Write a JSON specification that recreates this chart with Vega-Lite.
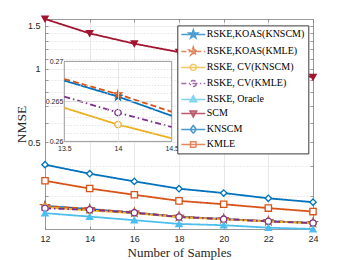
{
  "$schema": "https://vega.github.io/schema/vega-lite/v6.json",
  "width": 268,
  "height": 210,
  "autosize": {"type": "none"},
  "padding": {"left": 45, "top": 19, "right": 33, "bottom": 31},
  "background": "white",
  "config": {
    "view": {"stroke": null},
    "axis": {"labelFont": "Liberation Sans", "titleFont": "Liberation Serif", "labelColor": "#262626", "titleColor": "#262626", "domainColor": "#808080", "tickColor": "#808080", "domainWidth": 0.8, "tickWidth": 0.8}
  },
  "datasets": {
    "main": [
      {"series": "RSKE,KOAS(KNSCM)", "n": 12, "nmse": 0.2736},
      {"series": "RSKE,KOAS(KNSCM)", "n": 14, "nmse": 0.2656},
      {"series": "RSKE,KOAS(KNSCM)", "n": 16, "nmse": 0.2566},
      {"series": "RSKE,KOAS(KNSCM)", "n": 18, "nmse": 0.2470},
      {"series": "RSKE,KOAS(KNSCM)", "n": 20, "nmse": 0.2418},
      {"series": "RSKE,KOAS(KNSCM)", "n": 22, "nmse": 0.2368},
      {"series": "RSKE,KOAS(KNSCM)", "n": 24, "nmse": 0.2330},
      {"series": "RSKE,KOAS(KMLE)", "n": 12, "nmse": 0.2735},
      {"series": "RSKE,KOAS(KMLE)", "n": 14, "nmse": 0.2659},
      {"series": "RSKE,KOAS(KMLE)", "n": 16, "nmse": 0.2574},
      {"series": "RSKE,KOAS(KMLE)", "n": 18, "nmse": 0.2473},
      {"series": "RSKE,KOAS(KMLE)", "n": 20, "nmse": 0.2421},
      {"series": "RSKE,KOAS(KMLE)", "n": 22, "nmse": 0.2370},
      {"series": "RSKE,KOAS(KMLE)", "n": 24, "nmse": 0.2332},
      {"series": "RSKE, CV(KNSCM)", "n": 12, "nmse": 0.2705},
      {"series": "RSKE, CV(KNSCM)", "n": 14, "nmse": 0.2621},
      {"series": "RSKE, CV(KNSCM)", "n": 16, "nmse": 0.2553},
      {"series": "RSKE, CV(KNSCM)", "n": 18, "nmse": 0.2460},
      {"series": "RSKE, CV(KNSCM)", "n": 20, "nmse": 0.2410},
      {"series": "RSKE, CV(KNSCM)", "n": 22, "nmse": 0.2362},
      {"series": "RSKE, CV(KNSCM)", "n": 24, "nmse": 0.2324},
      {"series": "RSKE, CV(KMLE)", "n": 12, "nmse": 0.2676},
      {"series": "RSKE, CV(KMLE)", "n": 14, "nmse": 0.2636},
      {"series": "RSKE, CV(KMLE)", "n": 16, "nmse": 0.2564},
      {"series": "RSKE, CV(KMLE)", "n": 18, "nmse": 0.2465},
      {"series": "RSKE, CV(KMLE)", "n": 20, "nmse": 0.2414},
      {"series": "RSKE, CV(KMLE)", "n": 22, "nmse": 0.2365},
      {"series": "RSKE, CV(KMLE)", "n": 24, "nmse": 0.2327},
      {"series": "RSKE, Oracle", "n": 12, "nmse": 0.2555},
      {"series": "RSKE, Oracle", "n": 14, "nmse": 0.2473},
      {"series": "RSKE, Oracle", "n": 16, "nmse": 0.2391},
      {"series": "RSKE, Oracle", "n": 18, "nmse": 0.2308},
      {"series": "RSKE, Oracle", "n": 20, "nmse": 0.2280},
      {"series": "RSKE, Oracle", "n": 22, "nmse": 0.2228},
      {"series": "RSKE, Oracle", "n": 24, "nmse": 0.2200},
      {"series": "SCM", "n": 12, "nmse": 1.600},
      {"series": "SCM", "n": 14, "nmse": 1.397},
      {"series": "SCM", "n": 16, "nmse": 1.267},
      {"series": "SCM", "n": 18, "nmse": 1.170},
      {"series": "SCM", "n": 20, "nmse": 1.082},
      {"series": "SCM", "n": 22, "nmse": 1.000},
      {"series": "SCM", "n": 24, "nmse": 0.923},
      {"series": "KNSCM", "n": 12, "nmse": 0.404},
      {"series": "KNSCM", "n": 14, "nmse": 0.371},
      {"series": "KNSCM", "n": 16, "nmse": 0.345},
      {"series": "KNSCM", "n": 18, "nmse": 0.322},
      {"series": "KNSCM", "n": 20, "nmse": 0.309},
      {"series": "KNSCM", "n": 22, "nmse": 0.294},
      {"series": "KNSCM", "n": 24, "nmse": 0.2835},
      {"series": "KMLE", "n": 12, "nmse": 0.347},
      {"series": "KMLE", "n": 14, "nmse": 0.3225},
      {"series": "KMLE", "n": 16, "nmse": 0.304},
      {"series": "KMLE", "n": 18, "nmse": 0.287},
      {"series": "KMLE", "n": 20, "nmse": 0.278},
      {"series": "KMLE", "n": 22, "nmse": 0.268},
      {"series": "KMLE", "n": 24, "nmse": 0.2594}
    ],
    "inset": [
      {"series": "RSKE,KOAS(KNSCM)", "n": 13.5, "nmse": 0.2676},
      {"series": "RSKE,KOAS(KNSCM)", "n": 14, "nmse": 0.2656},
      {"series": "RSKE,KOAS(KNSCM)", "n": 14.5, "nmse": 0.2632},
      {"series": "RSKE,KOAS(KMLE)", "n": 13.5, "nmse": 0.2678},
      {"series": "RSKE,KOAS(KMLE)", "n": 14, "nmse": 0.2659},
      {"series": "RSKE,KOAS(KMLE)", "n": 14.5, "nmse": 0.2637},
      {"series": "RSKE, CV(KNSCM)", "n": 13.5, "nmse": 0.2642},
      {"series": "RSKE, CV(KNSCM)", "n": 14, "nmse": 0.2621},
      {"series": "RSKE, CV(KNSCM)", "n": 14.5, "nmse": 0.2604},
      {"series": "RSKE, CV(KMLE)", "n": 13.5, "nmse": 0.2656},
      {"series": "RSKE, CV(KMLE)", "n": 14, "nmse": 0.2636},
      {"series": "RSKE, CV(KMLE)", "n": 14.5, "nmse": 0.2618}
    ]
  },
  "layer": [
    {
      "data": {"name": "main"},
      "mark": {"type": "line", "strokeWidth": 1.8},
      "encoding": {
        "x": {"field": "n", "type": "quantitative", "scale": {"domain": [12, 24]},
          "axis": {"orient": "bottom", "values": [12, 14, 16, 18, 20, 22, 24], "grid": true, "gridColor": "#e2e2e2", "gridWidth": 0.8, "tickSize": -3, "labelPadding": 8, "labelFontSize": 9, "labelFlush": false, "title": "Number of Samples", "titleFontSize": 13, "titleFontWeight": "normal", "titleY": 23, "titleBaseline": "middle"}},
        "y": {"field": "nmse", "type": "quantitative", "scale": {"type": "log", "domain": [0.22, 1.6]},
          "axis": {"orient": "left", "values": [0.3, 0.4, 0.5, 0.6, 0.7, 0.8, 0.9, 1, 1.1, 1.2, 1.3, 1.4, 1.5], "grid": true,
            "gridColor": {"condition": {"test": "datum.value == 0.5 || datum.value == 1 || datum.value == 1.5", "value": "#e2e2e2"}, "value": "#d0d0d0"},
            "gridDash": {"condition": {"test": "datum.value == 0.5 || datum.value == 1 || datum.value == 1.5", "value": [1, 0]}, "value": [1, 2]},
            "gridWidth": 0.8,
            "tickSize": -3, "labelPadding": 8, "labelFontSize": 9,
            "labelExpr": "datum.value == 0.5 ? '0.5' : datum.value == 1 ? '1' : datum.value == 1.5 ? '1.5' : ''",
            "title": "NMSE", "titleFontSize": 13.5, "titleFontWeight": "normal", "titleX": -24, "titleY": 105, "titleAlign": "center", "titleBaseline": "middle", "titleAngle": -90}},
        "stroke": {"field": "series", "type": "nominal", "legend": null,
          "scale": {"domain": ["RSKE,KOAS(KNSCM)", "RSKE,KOAS(KMLE)", "RSKE, CV(KNSCM)", "RSKE, CV(KMLE)", "RSKE, Oracle", "SCM", "KNSCM", "KMLE"], "range": ["#0072BD", "#D95319", "#EDB120", "#7E2F8E", "#4DBEEE", "#A2142F", "#0072BD", "#D95319"]}},
        "strokeDash": {"field": "series", "type": "nominal", "legend": null,
          "scale": {"domain": ["RSKE,KOAS(KNSCM)", "RSKE,KOAS(KMLE)", "RSKE, CV(KNSCM)", "RSKE, CV(KMLE)", "RSKE, Oracle", "SCM", "KNSCM", "KMLE"], "range": [[1, 0], [6, 3], [1, 0], [6, 3, 1.5, 3], [1, 0], [1, 0], [1, 0], [1, 0]]}},
        "detail": {"field": "series", "type": "nominal"}
      }
    },
    {
      "data": {"name": "main"},
      "mark": {"type": "point", "strokeWidth": 1.3, "size": 40, "opacity": 1},
      "encoding": {
        "x": {"field": "n", "type": "quantitative", "scale": {"domain": [12, 24]},
          "axis": {"orient": "top", "values": [12, 14, 16, 18, 20, 22, 24], "grid": false, "labels": false, "tickSize": -3, "title": null}},
        "y": {"field": "nmse", "type": "quantitative", "scale": {"type": "log", "domain": [0.22, 1.6]},
          "axis": {"orient": "right", "values": [0.3, 0.4, 0.5, 0.6, 0.7, 0.8, 0.9, 1, 1.1, 1.2, 1.3, 1.4, 1.5], "grid": false, "labels": false, "tickSize": -3, "title": null}},
        "stroke": {"field": "series", "type": "nominal", "legend": null,
          "scale": {"domain": ["RSKE,KOAS(KNSCM)", "RSKE,KOAS(KMLE)", "RSKE, CV(KNSCM)", "RSKE, CV(KMLE)", "RSKE, Oracle", "SCM", "KNSCM", "KMLE"], "range": ["#0072BD", "#D95319", "#EDB120", "#7E2F8E", "#4DBEEE", "#A2142F", "#0072BD", "#D95319"]}},
        "fill": {"field": "series", "type": "nominal", "legend": null,
          "scale": {"domain": ["RSKE,KOAS(KNSCM)", "RSKE,KOAS(KMLE)", "RSKE, CV(KNSCM)", "RSKE, CV(KMLE)", "RSKE, Oracle", "SCM", "KNSCM", "KMLE"], "range": ["#0072BD", "#D95319", "white", "white", "#4DBEEE", "#A2142F", "white", "white"]}},
        "shape": {"field": "series", "type": "nominal", "legend": null,
          "scale": {"domain": ["RSKE,KOAS(KNSCM)", "RSKE,KOAS(KMLE)", "RSKE, CV(KNSCM)", "RSKE, CV(KMLE)", "RSKE, Oracle", "SCM", "KNSCM", "KMLE"], "range": [
            "M0,-1.25L0.279,-0.384L1.189,-0.386L0.451,0.146L0.735,1.011L0,0.475L-0.735,1.011L-0.451,0.146L-1.189,-0.386L-0.279,-0.384Z",
            "M0,-1.25L0.279,-0.384L1.189,-0.386L0.451,0.146L0.735,1.011L0,0.475L-0.735,1.011L-0.451,0.146L-1.189,-0.386L-0.279,-0.384Z",
            "circle", "circle", "triangle-up", "triangle-down", "diamond", "square"]}}
      }
    },
    {
      "data": {"values": [{}]},
      "mark": {"type": "rect", "fill": "white", "stroke": "#808080", "strokeWidth": 0.8},
      "encoding": {
        "x": {"datum": 13.5, "type": "quantitative", "scale": {"domain": [13.5, 14.5], "range": [19.3, 126.7]}, "axis": null},
        "x2": {"datum": 14.5},
        "y": {"datum": 0.26, "type": "quantitative", "scale": {"domain": [0.26, 0.27], "range": [122.4, 42.4], "zero": false}, "axis": null},
        "y2": {"datum": 0.27}
      }
    },
    {
      "data": {"name": "inset"},
      "mark": {"type": "line", "strokeWidth": 1.8},
      "encoding": {
        "x": {"field": "n", "type": "quantitative", "scale": {"domain": [13.5, 14.5], "range": [19.3, 126.7]},
          "axis": {"orient": "bottom", "offset": -87.6, "values": [13.5, 14, 14.5], "format": "~g", "domain": false, "grid": false, "tickSize": -80, "tickWidth": 0.8,
            "tickColor": {"condition": {"test": "datum.value == 14", "value": "#e2e2e2"}, "value": "transparent"},
            "labelPadding": 83, "labelFontSize": 7, "labelAlign": "center", "labelBaseline": "top", "labelFlush": false, "title": null, "zindex": 1}},
        "y": {"field": "nmse", "type": "quantitative", "scale": {"domain": [0.26, 0.27], "range": [122.4, 42.4], "zero": false},
          "axis": {"orient": "left", "offset": -19.3, "values": [0.26, 0.261, 0.262, 0.263, 0.264, 0.265, 0.266, 0.267, 0.268, 0.269, 0.27], "domain": false, "grid": false, "tickSize": -107.4, "tickWidth": 0.8,
            "tickColor": {"condition": {"test": "datum.value == 0.26 || datum.value == 0.27", "value": "transparent"}, "value": "#d0d0d0"},
            "tickDash": {"condition": {"test": "datum.value == 0.265", "value": [1, 0]}, "value": [1, 2]},
            "labelPadding": 108.9, "labelFontSize": 7, "labelAlign": "right", "labelBaseline": "middle",
            "labelExpr": "datum.value == 0.26 ? '0.26' : datum.value == 0.265 ? '0.265' : datum.value == 0.27 ? '0.27' : ''",
            "title": null, "zindex": 1}},
        "stroke": {"field": "series", "type": "nominal", "legend": null,
          "scale": {"domain": ["RSKE,KOAS(KNSCM)", "RSKE,KOAS(KMLE)", "RSKE, CV(KNSCM)", "RSKE, CV(KMLE)", "RSKE, Oracle", "SCM", "KNSCM", "KMLE"], "range": ["#0072BD", "#D95319", "#EDB120", "#7E2F8E", "#4DBEEE", "#A2142F", "#0072BD", "#D95319"]}},
        "strokeDash": {"field": "series", "type": "nominal", "legend": null,
          "scale": {"domain": ["RSKE,KOAS(KNSCM)", "RSKE,KOAS(KMLE)", "RSKE, CV(KNSCM)", "RSKE, CV(KMLE)", "RSKE, Oracle", "SCM", "KNSCM", "KMLE"], "range": [[1, 0], [6, 3], [1, 0], [6, 3, 1.5, 3], [1, 0], [1, 0], [1, 0], [1, 0]]}}
      }
    },
    {
      "data": {"name": "inset"},
      "transform": [{"filter": "datum.n == 14"}],
      "mark": {"type": "point", "strokeWidth": 1.3, "size": 40, "opacity": 1},
      "encoding": {
        "x": {"field": "n", "type": "quantitative", "scale": {"domain": [13.5, 14.5], "range": [19.3, 126.7]}, "axis": null},
        "y": {"field": "nmse", "type": "quantitative", "scale": {"domain": [0.26, 0.27], "range": [122.4, 42.4], "zero": false}, "axis": null},
        "stroke": {"field": "series", "type": "nominal", "legend": null,
          "scale": {"domain": ["RSKE,KOAS(KNSCM)", "RSKE,KOAS(KMLE)", "RSKE, CV(KNSCM)", "RSKE, CV(KMLE)", "RSKE, Oracle", "SCM", "KNSCM", "KMLE"], "range": ["#0072BD", "#D95319", "#EDB120", "#7E2F8E", "#4DBEEE", "#A2142F", "#0072BD", "#D95319"]}},
        "fill": {"field": "series", "type": "nominal", "legend": null,
          "scale": {"domain": ["RSKE,KOAS(KNSCM)", "RSKE,KOAS(KMLE)", "RSKE, CV(KNSCM)", "RSKE, CV(KMLE)", "RSKE, Oracle", "SCM", "KNSCM", "KMLE"], "range": ["#0072BD", "#D95319", "white", "white", "#4DBEEE", "#A2142F", "white", "white"]}},
        "shape": {"field": "series", "type": "nominal", "legend": null,
          "scale": {"domain": ["RSKE,KOAS(KNSCM)", "RSKE,KOAS(KMLE)", "RSKE, CV(KNSCM)", "RSKE, CV(KMLE)", "RSKE, Oracle", "SCM", "KNSCM", "KMLE"], "range": [
            "M0,-1.25L0.279,-0.384L1.189,-0.386L0.451,0.146L0.735,1.011L0,0.475L-0.735,1.011L-0.451,0.146L-1.189,-0.386L-0.279,-0.384Z",
            "M0,-1.25L0.279,-0.384L1.189,-0.386L0.451,0.146L0.735,1.011L0,0.475L-0.735,1.011L-0.451,0.146L-1.189,-0.386L-0.279,-0.384Z",
            "circle", "circle", "triangle-up", "triangle-down", "diamond", "square"]}}
      }
    },
    {
      "data": {"name": "main"},
      "transform": [{"filter": "false"}],
      "mark": {"type": "point", "strokeWidth": 1.5},
      "encoding": {
        "x": {"field": "n", "type": "quantitative", "scale": {"domain": [12, 24]}, "axis": null},
        "y": {"field": "nmse", "type": "quantitative", "scale": {"type": "log", "domain": [0.22, 1.6]}, "axis": null},
        "stroke": {"field": "series", "type": "nominal",
          "scale": {"domain": ["RSKE,KOAS(KNSCM)", "RSKE,KOAS(KMLE)", "RSKE, CV(KNSCM)", "RSKE, CV(KMLE)", "RSKE, Oracle", "SCM", "KNSCM", "KMLE"], "range": ["#0072BD", "#D95319", "#EDB120", "#7E2F8E", "#4DBEEE", "#A2142F", "#0072BD", "#D95319"]},
          "legend": {"title": null, "orient": "none", "legendX": 132.3, "legendY": 6.4, "symbolSize": 100, "labelFont": "Liberation Serif", "labelFontSize": 10, "labelColor": "black", "labelOffset": 14.5, "padding": 3, "rowPadding": 2, "fillColor": "white", "strokeColor": "#3a3a3a", "symbolStrokeWidth": 1.5, "labelLimit": 100, "zindex": 2}},
        "fill": {"field": "series", "type": "nominal",
          "scale": {"domain": ["RSKE,KOAS(KNSCM)", "RSKE,KOAS(KMLE)", "RSKE, CV(KNSCM)", "RSKE, CV(KMLE)", "RSKE, Oracle", "SCM", "KNSCM", "KMLE"], "range": ["#0072BD", "#D95319", "white", "white", "#4DBEEE", "#A2142F", "white", "white"]},
          "legend": {"title": null, "orient": "none", "legendX": 132.3, "legendY": 6.4, "symbolSize": 100, "labelFont": "Liberation Serif", "labelFontSize": 10, "labelColor": "black", "labelOffset": 14.5, "padding": 3, "rowPadding": 2, "fillColor": "white", "strokeColor": "#3a3a3a", "symbolStrokeWidth": 1.5, "labelLimit": 100, "zindex": 2}},
        "strokeDash": {"field": "series", "type": "nominal",
          "scale": {"domain": ["RSKE,KOAS(KNSCM)", "RSKE,KOAS(KMLE)", "RSKE, CV(KNSCM)", "RSKE, CV(KMLE)", "RSKE, Oracle", "SCM", "KNSCM", "KMLE"], "range": [[1, 0], [5, 2.5], [1, 0], [5, 2.5, 1.2, 2.5], [1, 0], [1, 0], [1, 0], [1, 0]]},
          "legend": {"title": null, "orient": "none", "legendX": 132.3, "legendY": 6.4, "symbolSize": 100, "labelFont": "Liberation Serif", "labelFontSize": 10, "labelColor": "black", "labelOffset": 14.5, "padding": 3, "rowPadding": 2, "fillColor": "white", "strokeColor": "#3a3a3a", "symbolStrokeWidth": 1.5, "labelLimit": 100, "zindex": 2}},
        "shape": {"field": "series", "type": "nominal",
          "scale": {"domain": ["RSKE,KOAS(KNSCM)", "RSKE,KOAS(KMLE)", "RSKE, CV(KNSCM)", "RSKE, CV(KMLE)", "RSKE, Oracle", "SCM", "KNSCM", "KMLE"], "range": [
            "M-1,0H3.8M1.4,-0.9L1.601,-0.277L2.256,-0.278L1.725,0.106L1.929,0.728L1.4,0.342L0.871,0.728L1.075,0.106L0.544,-0.278L1.199,-0.277Z",
            "M-1,0H3.8M1.4,-0.9L1.601,-0.277L2.256,-0.278L1.725,0.106L1.929,0.728L1.4,0.342L0.871,0.728L1.075,0.106L0.544,-0.278L1.199,-0.277Z",
            "M-1,0H3.8M2,0A0.6,0.6,0,1,1,0.8,0A0.6,0.6,0,1,1,2,0Z",
            "M-1,0H3.8M2,0A0.6,0.6,0,1,1,0.8,0A0.6,0.6,0,1,1,2,0Z",
            "M-1,0H3.8M1.4,-0.72L2.07,0.48L0.73,0.48Z",
            "M-1,0H3.8M1.4,0.72L2.07,-0.48L0.73,-0.48Z",
            "M-1,0H3.8M1.4,-0.8L2,0L1.4,0.8L0.8,0Z",
            "M-1,0H3.8M0.85,-0.55H1.95V0.55H0.85Z"]},
          "legend": {"title": null, "orient": "none", "legendX": 132.3, "legendY": 6.4, "symbolSize": 100, "labelFont": "Liberation Serif", "labelFontSize": 10, "labelColor": "black", "labelOffset": 14.5, "padding": 3, "rowPadding": 2, "fillColor": "white", "strokeColor": "#3a3a3a", "symbolStrokeWidth": 1.5, "labelLimit": 100, "zindex": 2}}
      }
    }
  ],
  "resolve": {
    "scale": {"x": "independent", "y": "independent", "stroke": "independent", "fill": "independent", "strokeDash": "independent", "shape": "independent"},
    "legend": {"stroke": "independent", "fill": "independent", "strokeDash": "independent", "shape": "independent"},
    "axis": {"x": "independent", "y": "independent"}
  }
}
